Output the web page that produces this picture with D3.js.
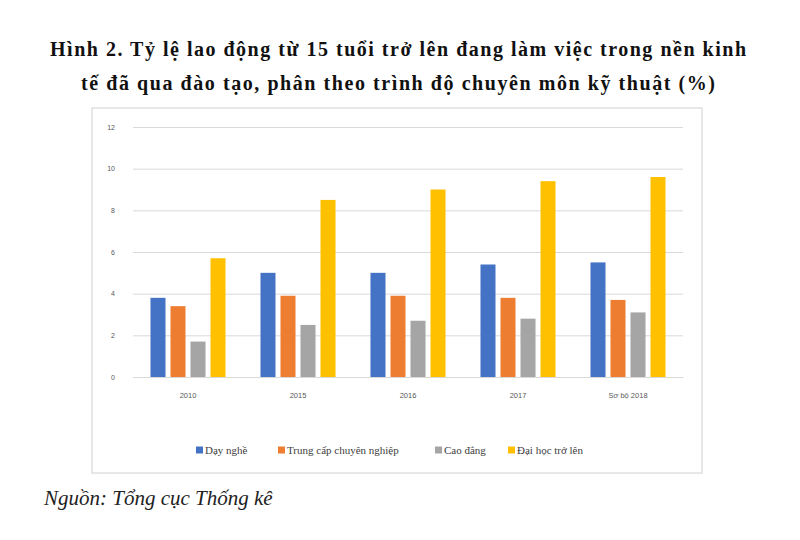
<!DOCTYPE html>
<html>
<head>
<meta charset="UTF-8" />
<title>Hình 2</title>
<script src="https://cdn.jsdelivr.net/npm/d3@7/dist/d3.min.js"></script>
<style>
body{margin:0;background:#fff;}
</style>
</head>
<body>
<div id="chart"></div>
<script type="text/javascript">

var w=800,h=540;

// du lieu
var categories=['2010','2015','2016','2017','Sơ bộ 2018'];
var seriesNames=['Dạy nghề','Trung cấp chuyên nghiệp','Cao đẳng','Đại học trở lên'];
var dayNghe=[3.8,5.0,5.0,5.4,5.5];
var trungCap=[3.4,3.9,3.9,3.8,3.7];
var caoDang=[1.7,2.5,2.7,2.8,3.1];
var daiHoc=[5.7,8.5,9.0,9.4,9.6];
var yTicks=[0,2,4,6,8,10,12];
var colors=['#4472c4','#ed7d31','#a5a5a5','#ffc000'];
var titleLines=['Hình 2. Tỷ lệ lao động từ 15 tuổi trở lên đang làm việc trong nền kinh',
                'tế đã qua đào tạo, phân theo trình độ chuyên môn kỹ thuật (%)'];
var sourceText='Nguồn: Tổng cục Thống kê';

var values=[dayNghe,trungCap,caoDang,daiHoc];

var svg=d3.select('#chart').append('svg')
  .attr('width',w)
  .attr('height',h);

svg.append('rect').attr('width',w).attr('height',h).attr('fill','#fff');

// tieu de
svg.append('text').attr('x',398).attr('y',56)
  .attr('text-anchor','middle')
  .attr('font-family','Liberation Serif')
  .attr('font-weight','bold')
  .attr('font-size',20)
  .attr('textLength',696).attr('lengthAdjust','spacing')
  .attr('fill','#111')
  .text(titleLines[0]);
svg.append('text').attr('x',398).attr('y',90)
  .attr('text-anchor','middle')
  .attr('font-family','Liberation Serif')
  .attr('font-weight','bold')
  .attr('font-size',20)
  .attr('textLength',634).attr('lengthAdjust','spacing')
  .attr('fill','#111')
  .text(titleLines[1]);

// khung bieu do
svg.append('rect')
  .attr('x',92).attr('y',108)
  .attr('width',610).attr('height',365)
  .attr('fill','#fff')
  .attr('stroke','#e0e0e0')
  .attr('stroke-width',1.5);

var plotLeft=133,plotRight=683,plotTop=127,plotBottom=377;

var y=d3.scaleLinear().domain([0,12]).range([plotBottom,plotTop]);
var x0=d3.scaleBand().domain(categories).range([plotLeft,plotRight])
  .paddingInner(0.318).paddingOuter(0.159);
var x1=d3.scaleBand().domain(seriesNames).range([0,x0.bandwidth()])
  .paddingInner(0.25).paddingOuter(0);

// luoi
var yAxis=d3.axisLeft(y).tickValues(yTicks).tickSize(-(plotRight-plotLeft)).tickPadding(18);
var gy=svg.append('g').attr('transform','translate('+plotLeft+',0)').call(yAxis);
gy.select('.domain').remove();
gy.selectAll('.tick line').attr('stroke','#d9d9d9').attr('stroke-width',1);
gy.selectAll('.tick text')
  .attr('font-family','Liberation Sans')
  .attr('font-size',7)
  .attr('fill','#595959');

// cot
for(var s=0;s<seriesNames.length;s++){
  svg.append('g').selectAll('rect')
    .data(values[s])
    .enter()
    .append('rect')
    .attr('x',function(d,i){return x0(categories[i])+x1(seriesNames[s]);})
    .attr('y',function(d){return y(d);})
    .attr('width',x1.bandwidth())
    .attr('height',function(d){return y(0)-y(d);})
    .attr('fill',colors[s]);
}

// truc x
var xAxis=d3.axisBottom(x0).tickSize(0).tickPadding(16);
var gx=svg.append('g').attr('transform','translate(0,'+plotBottom+')').call(xAxis);
gx.select('.domain').attr('stroke','#d9d9d9');
gx.selectAll('.tick text')
  .attr('font-family','Liberation Sans')
  .attr('font-size',7.5)
  .attr('fill','#595959');

// chu giai
var legendX=[196,278,435,508];
var lg=svg.append('g').selectAll('g')
  .data(seriesNames)
  .enter()
  .append('g')
  .attr('transform',function(d,i){return 'translate('+legendX[i]+',450)';});
lg.append('rect').attr('x',0).attr('y',-3.5).attr('width',7).attr('height',7)
  .attr('fill',function(d,i){return colors[i];});
lg.append('text').attr('x',9).attr('y',3.5)
  .attr('font-family','Liberation Serif')
  .attr('font-size',11)
  .attr('fill','#404040')
  .text(function(d){return d;});

// nguon
svg.append('text').attr('x',44).attr('y',505)
  .attr('font-family','Liberation Serif')
  .attr('font-style','italic')
  .attr('font-size',21)
  .attr('fill','#222')
  .text(sourceText);

</script>
</body>
</html>
